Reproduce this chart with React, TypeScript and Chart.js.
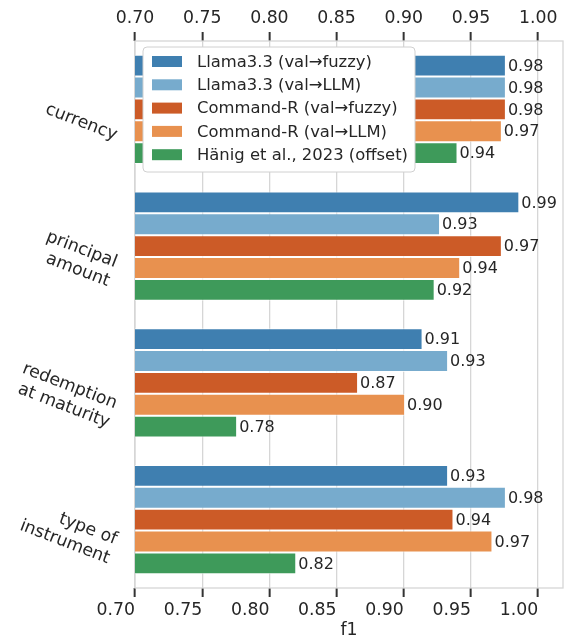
import React, { useEffect, useRef } from "react";
import { Chart, registerables } from "chart.js";

Chart.register(...registerables);

// ---- data ----
const categories: string[][] = [
  ["currency"],
  ["principal", "amount"],
  ["redemption", "at maturity"],
  ["type of", "instrument"],
];
const seriesNames = [
  "Llama3.3 (val→fuzzy)",
  "Llama3.3 (val→LLM)",
  "Command-R (val→fuzzy)",
  "Command-R (val→LLM)",
  "Hänig et al., 2023 (offset)",
];
const llamaFuzzy = [0.976, 0.986, 0.914, 0.933];
const llamaLLM = [0.976, 0.927, 0.933, 0.976];
const commandFuzzy = [0.976, 0.973, 0.866, 0.937];
const commandLLM = [0.973, 0.942, 0.901, 0.966];
const haenig = [0.94, 0.923, 0.776, 0.82];
const xTicks = [0.7, 0.75, 0.8, 0.85, 0.9, 0.95, 1.0];
const xMin = 0.7;
const xMax = 1.0185;
const axisTitle = "f1";

const seriesValues = [llamaFuzzy, llamaLLM, commandFuzzy, commandLLM, haenig];
const seriesColors = ["#3f7fb0", "#77abcd", "#cc5b27", "#e8914f", "#3e9a5a"];

const FONT = "'DejaVu Sans', sans-serif";
const TEXT = "#262626";
const GRID = "#d6d6d6";
const TICK_SIZE = 17.3;

const framePlugin = {
  id: "frame",
  beforeDatasetsDraw(chart: any) {
    const { ctx, chartArea } = chart;
    ctx.save();
    ctx.strokeStyle = GRID;
    ctx.lineWidth = 1.3;
    ctx.strokeRect(chartArea.left, chartArea.top, chartArea.right - chartArea.left, chartArea.bottom - chartArea.top);
    ctx.restore();
  },
};

const valueLabelPlugin = {
  id: "valueLabels",
  afterDatasetsDraw(chart: any) {
    const { ctx } = chart;
    ctx.save();
    ctx.font = `16px ${FONT}`;
    ctx.fillStyle = TEXT;
    ctx.textAlign = "left";
    ctx.textBaseline = "middle";
    chart.data.datasets.forEach((ds: any, di: number) => {
      const meta = chart.getDatasetMeta(di);
      meta.data.forEach((el: any, i: number) => {
        const v = ds.data[i] as number;
        ctx.fillText(v.toFixed(2), el.x + 2, el.y + 1);
      });
    });
    ctx.restore();
  },
};

const yLabelPlugin = {
  id: "yLabels",
  afterDraw(chart: any) {
    const { ctx, chartArea } = chart;
    const yScale = chart.scales.y;
    const theta = (21 * Math.PI) / 180;
    const lh = 20.5;
    ctx.save();
    ctx.font = `${TICK_SIZE}px ${FONT}`;
    ctx.fillStyle = TEXT;
    ctx.textAlign = "right";
    ctx.textBaseline = "middle";
    categories.forEach((lines, i) => {
      const tick = yScale.getPixelForValue(i);
      const w = Math.max(...lines.map((l) => ctx.measureText(l).width));
      const H = lines.length * lh;
      const xa = chartArea.left - 15 - (H / 2) * Math.sin(theta);
      const ya = tick + 13 + (w * Math.sin(theta)) / 2;
      ctx.save();
      ctx.translate(xa, ya);
      ctx.rotate(theta);
      lines.forEach((l, k) => {
        ctx.fillText(l, 0, -H / 2 + lh / 2 + k * lh);
      });
      ctx.restore();
    });
    ctx.restore();
  },
};

const legendPlugin = {
  id: "customLegend",
  afterDraw(chart: any) {
    const { ctx, chartArea } = chart;
    const x0 = chartArea.left + 8;
    const y0 = chartArea.top + 6;
    const w = 272;
    const h = 125;
    const r = 4;
    ctx.save();
    ctx.beginPath();
    ctx.moveTo(x0 + r, y0);
    ctx.lineTo(x0 + w - r, y0);
    ctx.arcTo(x0 + w, y0, x0 + w, y0 + r, r);
    ctx.lineTo(x0 + w, y0 + h - r);
    ctx.arcTo(x0 + w, y0 + h, x0 + w - r, y0 + h, r);
    ctx.lineTo(x0 + r, y0 + h);
    ctx.arcTo(x0, y0 + h, x0, y0 + h - r, r);
    ctx.lineTo(x0, y0 + r);
    ctx.arcTo(x0, y0, x0 + r, y0, r);
    ctx.closePath();
    ctx.fillStyle = "#ffffff";
    ctx.fill();
    ctx.strokeStyle = "#d0d0d0";
    ctx.lineWidth = 1;
    ctx.stroke();
    ctx.font = `16.4px ${FONT}`;
    ctx.textAlign = "left";
    ctx.textBaseline = "middle";
    seriesNames.forEach((name, i) => {
      const cy = y0 + 14.5 + i * 23.3;
      ctx.fillStyle = seriesColors[i];
      ctx.fillRect(x0 + 9, cy - 5.5, 30, 11);
      ctx.fillStyle = TEXT;
      ctx.fillText(name, x0 + 54, cy + 1);
    });
    ctx.restore();
  },
};

function xAxis(position: "top" | "bottom", height: number, withGrid: boolean, withTitle: boolean) {
  return {
    type: "linear",
    axis: "x",
    position,
    min: xMin,
    max: xMax,
    afterBuildTicks: (s: any) => {
      s.ticks = xTicks.map((v) => ({ value: v }));
    },
    afterFit: (s: any) => {
      s.height = height;
    },
    border: { display: false },
    grid: {
      display: true,
      drawOnChartArea: withGrid,
      drawTicks: true,
      color: GRID,
      lineWidth: 1.3,
      tickColor: "#333333",
      tickWidth: 2,
      tickLength: 9,
    },
    ticks: {
      color: TEXT,
      font: { family: FONT, size: TICK_SIZE },
      padding: 3,
      maxRotation: 0,
      minRotation: 0,
      align: position === "bottom" ? "end" : "center",
      callback: (v: any) => Number(v).toFixed(2),
    },
    title: {
      display: withTitle,
      text: axisTitle,
      color: TEXT,
      font: { family: FONT, size: TICK_SIZE },
      padding: { top: 0, bottom: 0 },
    },
  };
}

export default function App() {
  const canvasRef = useRef<HTMLCanvasElement | null>(null);

  useEffect(() => {
    document.body.style.margin = "0";
    const canvas = canvasRef.current;
    if (!canvas) return;
    const chart = new Chart(canvas, {
      type: "bar",
      data: {
        labels: categories as any,
        datasets: seriesNames.map((name, i) => ({
          label: name,
          data: seriesValues[i],
          backgroundColor: seriesColors[i],
          borderColor: "rgba(255,255,255,0.7)",
          borderWidth: 1,
          borderSkipped: false,
          categoryPercentage: 0.8,
          barPercentage: 1.0,
        })),
      },
      options: {
        indexAxis: "y",
        responsive: true,
        maintainAspectRatio: false,
        animation: false,
        layout: { padding: { left: 135, right: 3, top: 0, bottom: 0 } },
        plugins: {
          legend: { display: false },
          tooltip: { enabled: false },
        },
        scales: {
          y: { type: "category", display: false, offset: true, grid: { display: false } },
          x: xAxis("bottom", 53, true, true) as any,
          x2: xAxis("top", 41, false, false) as any,
        },
      } as any,
      plugins: [framePlugin, valueLabelPlugin, yLabelPlugin, legendPlugin],
    });
    return () => chart.destroy();
  }, []);

  return (
    <div style={{ width: 566, height: 641, position: "relative" }}>
      <canvas ref={canvasRef} />
    </div>
  );
}
